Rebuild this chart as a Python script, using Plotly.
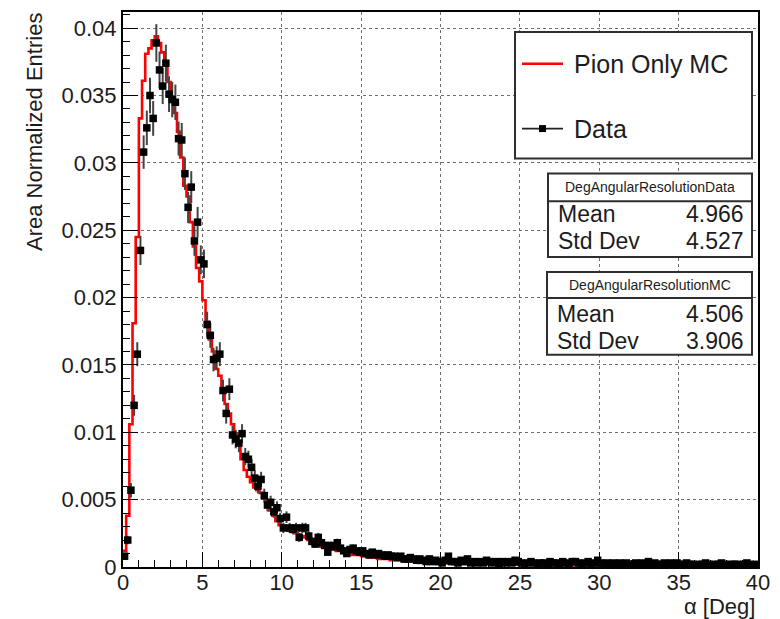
import numpy as np
import plotly.graph_objects as go

# ---- histogram definition: 200 bins of 0.2 deg from 0 to 40 deg ----
BIN_WIDTH = 0.2
X_MIN, X_MAX = 0.0, 40.0

# Data, area normalised (bin centres 0.1, 0.3, ... 39.9), rows of 10 bins
data_entries = [
    0.0008, 0.0020, 0.0057, 0.0120, 0.0158, 0.0235, 0.0308, 0.0326, 0.0350, 0.0333,
    0.0389, 0.0369, 0.0357, 0.0374, 0.0351, 0.0347, 0.0345, 0.0318, 0.0317, 0.0292,
    0.0267, 0.0282, 0.0242, 0.0256, 0.0228, 0.0225, 0.0180, 0.0172, 0.0154, 0.0155,
    0.0158, 0.0131, 0.0114, 0.0132, 0.0098, 0.0095, 0.0092, 0.0099, 0.0082, 0.0080,
    0.0074, 0.0066, 0.0060, 0.0065, 0.0053, 0.0046, 0.0048, 0.0041, 0.0044, 0.0036,
    0.0029, 0.0037, 0.0029, 0.0028, 0.0029, 0.0022, 0.0029, 0.0029, 0.0023, 0.0019,
    0.0017, 0.0022, 0.0018, 0.0016, 0.0011, 0.0016, 0.0015, 0.0018, 0.0014, 0.0012,
    0.0010, 0.0013, 0.0014, 0.0012, 0.0011, 0.0012, 0.0010, 0.0009, 0.0011, 0.0009,
    0.0010, 0.0009, 0.0008, 0.0009, 0.0008, 0.0008, 0.0007, 0.0008, 0.0006, 0.0006,
    0.0007, 0.0006, 0.0005, 0.0006, 0.0005, 0.0004, 0.0006, 0.0004, 0.0005, 0.0004,
    0.0003, 0.0005, 0.0008, 0.0004, 0.0004, 0.0003, 0.0005, 0.0004, 0.0006, 0.0003,
    0.0004, 0.0003, 0.0004, 0.0003, 0.0005, 0.0004, 0.0003, 0.0004, 0.0002, 0.0004,
    0.0003, 0.0004, 0.0003, 0.0005, 0.0004, 0.0003, 0.0002, 0.0003, 0.0004, 0.0003,
    0.0002, 0.0003, 0.0003, 0.0002, 0.0004, 0.0003, 0.0003, 0.0002, 0.0004, 0.0003,
    0.0002, 0.0004, 0.0004, 0.0003, 0.0002, 0.0003, 0.0004, 0.0002, 0.0003, 0.0005,
    0.0003, 0.0002, 0.0003, 0.0002, 0.0003, 0.0002, 0.0003, 0.0002, 0.0003, 0.0002,
    0.0002, 0.0003, 0.0002, 0.0003, 0.0002, 0.0004, 0.0002, 0.0003, 0.0002, 0.0002,
    0.0003, 0.0002, 0.0003, 0.0002, 0.0003, 0.0002, 0.0002, 0.0003, 0.0002, 0.0002,
    0.0001, 0.0002, 0.0002, 0.0003, 0.0002, 0.0001, 0.0002, 0.0002, 0.0003, 0.0002,
    0.0001, 0.0002, 0.0002, 0.0002, 0.0001, 0.0002, 0.0003, 0.0002, 0.0001, 0.0002,
]

# Pion-only Monte Carlo, area normalised, same binning
mc_entries = [
    0.0012, 0.0038, 0.0106, 0.0181, 0.0245, 0.0333, 0.0361, 0.0381, 0.0385, 0.0391,
    0.0394, 0.0389, 0.0382, 0.0373, 0.0360, 0.0349, 0.0337, 0.0323, 0.0304, 0.0283,
    0.0275, 0.0256, 0.0238, 0.0222, 0.0212, 0.0198, 0.0182, 0.0169, 0.0160, 0.0147,
    0.0142, 0.0132, 0.0121, 0.0114, 0.0106, 0.0099, 0.0092, 0.0080, 0.0072, 0.0067,
    0.0063, 0.0059, 0.0057, 0.0055, 0.0051, 0.0047, 0.0042, 0.0038, 0.0034, 0.0031,
    0.0030, 0.0029, 0.0027, 0.0026, 0.0025, 0.0024, 0.0023, 0.0022, 0.0020, 0.0019,
    0.0017, 0.0016, 0.0015, 0.0015, 0.0014, 0.0013, 0.0013, 0.0012, 0.0012, 0.0011,
    0.0010, 0.0010, 0.0009, 0.0009, 0.0009, 0.0008, 0.0008, 0.0007, 0.0007, 0.0007,
    0.0006, 0.0006, 0.0006, 0.0006, 0.0005, 0.0005, 0.0005, 0.0005, 0.0004, 0.0004,
    0.0004, 0.0004, 0.0004, 0.0003, 0.0003, 0.0003, 0.0003, 0.0003, 0.0003, 0.0003,
    0.00028, 0.00027, 0.00026, 0.00026, 0.00025, 0.00024, 0.00024, 0.00023, 0.00023, 0.00022,
    0.00022, 0.00021, 0.00021, 0.00020, 0.00020, 0.00020, 0.00019, 0.00019, 0.00019, 0.00018,
    0.00018, 0.00018, 0.00017, 0.00017, 0.00017, 0.00016, 0.00016, 0.00016, 0.00016, 0.00015,
    0.00015, 0.00015, 0.00015, 0.00014, 0.00014, 0.00014, 0.00014, 0.00013, 0.00013, 0.00013,
    0.00013, 0.00013, 0.00012, 0.00012, 0.00012, 0.00012, 0.00012, 0.00011, 0.00011, 0.00011,
    0.00011, 0.00011, 0.00011, 0.00010, 0.00010, 0.00010, 0.00010, 0.00010, 0.00010, 0.00010,
    0.00010, 0.00009, 0.00009, 0.00009, 0.00009, 0.00009, 0.00009, 0.00009, 0.00009, 0.00009,
    0.00009, 0.00008, 0.00008, 0.00008, 0.00008, 0.00008, 0.00008, 0.00008, 0.00008, 0.00008,
    0.00008, 0.00008, 0.00007, 0.00007, 0.00007, 0.00007, 0.00007, 0.00007, 0.00007, 0.00007,
    0.00007, 0.00007, 0.00007, 0.00007, 0.00006, 0.00006, 0.00006, 0.00006, 0.00006, 0.00006,
]

# statistical weight of the data sample, used for Poisson errors on normalised bins
DATA_ENTRIES_TOTAL = 20000

x_tick_vals = [0, 5, 10, 15, 20, 25, 30, 35, 40]
x_tick_text = ["0", "5", "10", "15", "20", "25", "30", "35", "40"]
y_tick_vals = [0, 0.005, 0.01, 0.015, 0.02, 0.025, 0.03, 0.035, 0.04]
y_tick_text = ["0", "0.005", "0.01", "0.015", "0.02", "0.025", "0.03", "0.035", "0.04"]
Y_MAX = 0.0412

stats_data = {"title": "DegAngularResolutionData", "Mean": "4.966", "Std Dev": "4.527"}
stats_mc = {"title": "DegAngularResolutionMC", "Mean": "4.506", "Std Dev": "3.906"}

# ---- derived arrays ----
data_y = np.array(data_entries)
mc_y = np.array(mc_entries)
centers = X_MIN + BIN_WIDTH * (np.arange(len(data_y)) + 0.5)
edges = X_MIN + BIN_WIDTH * np.arange(len(mc_y) + 1)
data_err = np.sqrt(data_y / DATA_ENTRIES_TOTAL)

# ---- figure geometry (pixels) ----
W, H = 780, 619
ML, MR, MT, MB = 123, 22, 10, 52
PW, PH = W - ML - MR, H - MT - MB


def px(x):
    return (x - ML) / PW


def py(y):
    return (H - MB - y) / PH


FONT = "Liberation Sans, Arial, Helvetica, sans-serif"
TXT = "#1c1c1c"

fig = go.Figure()

fig.add_trace(go.Scatter(
    x=edges, y=np.append(mc_y, mc_y[-1]),
    mode="lines", line=dict(color="#ff0000", width=2.6, shape="hv"),
    name="Pion Only MC", hoverinfo="skip",
))

fig.add_trace(go.Scatter(
    x=centers, y=data_y, mode="markers",
    marker=dict(symbol="square", size=7.5, color="black"),
    error_y=dict(type="data", array=data_err, visible=True,
                 color="#444444", thickness=2, width=0),
    name="Data",
))

axis_common = dict(
    ticks="inside", ticklen=15, tickwidth=1.3, tickcolor="black",
    showline=True, linewidth=2, linecolor="black", mirror=True,
    showgrid=True, gridcolor="#6f6f6f", griddash="dot", gridwidth=1,
    zeroline=False, tickfont=dict(family=FONT, size=22, color=TXT),
)

fig.update_xaxes(
    range=[X_MIN, X_MAX], tickmode="array", tickvals=x_tick_vals, ticktext=x_tick_text,
    ticklabelstandoff=-5,
    minor=dict(tickmode="linear", tick0=0, dtick=1, ticks="inside", ticklen=7,
               tickcolor="black", tickwidth=1.2, showgrid=False),
    **axis_common,
)
fig.update_yaxes(
    range=[0, Y_MAX], tickmode="array", tickvals=y_tick_vals, ticktext=y_tick_text,
    minor=dict(tickmode="linear", tick0=0, dtick=0.001, ticks="inside", ticklen=7,
               tickcolor="black", tickwidth=1.2, showgrid=False),
    **axis_common,
)

shapes = []
annotations = []

# axis titles
annotations.append(dict(
    text="Area Normalized Entries", xref="paper", yref="paper",
    x=px(34), y=py(9), xanchor="center", yanchor="top", textangle=-90,
    showarrow=False, font=dict(family=FONT, size=22, color=TXT),
))
annotations.append(dict(
    text="α [Deg]", xref="paper", yref="paper",
    x=px(757), y=py(607), xanchor="right", yanchor="middle",
    showarrow=False, font=dict(family=FONT, size=22, color=TXT),
))

BOX_LINE = dict(color="#2e2e2e", width=2)

# legend box
shapes.append(dict(type="rect", xref="paper", yref="paper",
                   x0=px(515), x1=px(752), y0=py(157), y1=py(30),
                   line=BOX_LINE, fillcolor="white", layer="above"))
shapes.append(dict(type="line", xref="paper", yref="paper",
                   x0=px(522), x1=px(563), y0=py(62), y1=py(62),
                   line=dict(color="#ff0000", width=2.6), layer="above"))
shapes.append(dict(type="line", xref="paper", yref="paper",
                   x0=px(522), x1=px(563), y0=py(127), y1=py(127),
                   line=dict(color="#222", width=1.6), layer="above"))
shapes.append(dict(type="rect", xref="paper", yref="paper",
                   x0=px(539), x1=px(546), y0=py(130.5), y1=py(123.5),
                   line=dict(color="black", width=0), fillcolor="black", layer="above"))
for label, ypos in (("Pion Only MC", 62), ("Data", 127)):
    annotations.append(dict(
        text=label, xref="paper", yref="paper", x=px(572), y=py(ypos),
        xanchor="left", yanchor="middle", showarrow=False,
        font=dict(family=FONT, size=25, color=TXT),
    ))


def stats_box(info, x0, x1, top, bottom, sep, y_title, y_mean, y_std):
    shapes.append(dict(type="rect", xref="paper", yref="paper",
                       x0=px(x0), x1=px(x1), y0=py(bottom), y1=py(top),
                       line=BOX_LINE, fillcolor="white", layer="above"))
    shapes.append(dict(type="line", xref="paper", yref="paper",
                       x0=px(x0), x1=px(x1), y0=py(sep), y1=py(sep),
                       line=BOX_LINE, layer="above"))
    annotations.append(dict(
        text=info["title"], xref="paper", yref="paper", x=px((x0 + x1) / 2), y=py(y_title),
        xanchor="center", yanchor="middle", showarrow=False,
        font=dict(family=FONT, size=14, color=TXT),
    ))
    for key, ypos in (("Mean", y_mean), ("Std Dev", y_std)):
        annotations.append(dict(
            text=key, xref="paper", yref="paper", x=px(x0 + 8), y=py(ypos),
            xanchor="left", yanchor="middle", showarrow=False,
            font=dict(family=FONT, size=23, color=TXT),
        ))
        annotations.append(dict(
            text=info[key], xref="paper", yref="paper", x=px(x1 - 6), y=py(ypos),
            xanchor="right", yanchor="middle", showarrow=False,
            font=dict(family=FONT, size=23, color=TXT),
        ))


stats_box(stats_data, 548, 752, 172, 256, 200, 186, 213, 240)
stats_box(stats_mc, 547, 752, 271, 354, 297, 284, 313, 340)

fig.update_layout(
    width=W, height=H,
    margin=dict(l=ML, r=MR, t=MT, b=MB, pad=0),
    paper_bgcolor="white", plot_bgcolor="white",
    showlegend=False,
    shapes=shapes, annotations=annotations,
    font=dict(family=FONT, color=TXT),
)

fig.write_html("out.html")
